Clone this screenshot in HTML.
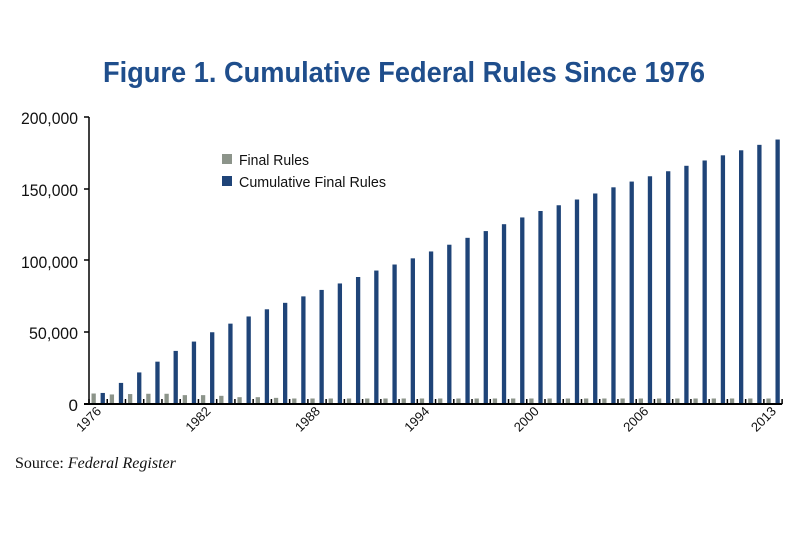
<!DOCTYPE html>
<html><head><meta charset="utf-8"><style>
html,body{margin:0;padding:0;background:#fff;width:800px;height:533px;overflow:hidden}
text{font-family:"Liberation Sans Narrow","Liberation Sans",sans-serif}
</style></head><body>
<svg id="s" width="800" height="533" viewBox="0 0 800 533" xmlns="http://www.w3.org/2000/svg">
<text x="404" y="82" text-anchor="middle" font-size="29" font-weight="bold" fill="#1f4e8c" textLength="602" lengthAdjust="spacingAndGlyphs">Figure 1. Cumulative Federal Rules Since 1976</text>
<g font-size="17" fill="#111" text-anchor="end">
<text x="78" y="124" textLength="57" lengthAdjust="spacingAndGlyphs">200,000</text>
<text x="78" y="196" textLength="57" lengthAdjust="spacingAndGlyphs">150,000</text>
<text x="78" y="268" textLength="57" lengthAdjust="spacingAndGlyphs">100,000</text>
<text x="78" y="339" textLength="49" lengthAdjust="spacingAndGlyphs">50,000</text>
<text x="78" y="411">0</text>
</g>
<rect x="222" y="154" width="10" height="10" fill="#8c948a"/>
<text x="239" y="165" font-size="15" fill="#111" textLength="70" lengthAdjust="spacingAndGlyphs">Final Rules</text>
<rect x="222" y="176" width="10" height="10" fill="#1f4478"/>
<text x="239" y="187" font-size="15" fill="#111" textLength="147" lengthAdjust="spacingAndGlyphs">Cumulative Final Rules</text>
<text x="15" y="468" font-size="16" fill="#111" style="font-family:'Liberation Serif',serif">Source: <tspan font-style="italic">Federal Register</tspan></text>
<g id="bars"></g>
</svg>
<script>
var cum=[7700,14700,22000,29500,37000,43500,50000,56000,61000,66000,70500,75000,79500,84000,88500,93000,97200,101500,106300,111000,115800,120500,125300,130000,134500,138500,142500,146700,151000,155000,158700,162200,166000,169700,173300,176800,180600,184300];
var g=document.getElementById('bars'),out='';
var x0=89,w=18.24,y0=404,sc=287/200000;
var prev=0;
for(var i=0;i<38;i++){
 var fr=i==0?7700:cum[i]-prev; prev=cum[i];
 var fh=Math.max(4,Math.min(fr,7700)*sc*0.95);
 if(i>10) fh=Math.max(5.5,fh*0.75);
 var x=x0+i*w;
 out+='<rect x="'+(x+2.5)+'" y="'+(y0-fh)+'" width="4.3" height="'+fh+'" fill="#8c948a"/>';
 var h=cum[i]*sc;
 out+='<rect x="'+(x+11.6)+'" y="'+(y0-h)+'" width="4.3" height="'+h+'" fill="#1f4478"/>';
 out+='<line x1="'+x+'" y1="'+(y0-5)+'" x2="'+x+'" y2="'+y0+'" stroke="#000" stroke-width="1.5"/>';
}
out+='<line x1="'+(x0+38*w)+'" y1="'+(y0-5)+'" x2="'+(x0+38*w)+'" y2="'+y0+'" stroke="#000" stroke-width="1.5"/>';
out+='<line x1="89" y1="117" x2="89" y2="405" stroke="#000" stroke-width="1.5"/>';
var ty=[117,189,260,332];
for(var k=0;k<4;k++) out+='<line x1="84" y1="'+ty[k]+'" x2="89" y2="'+ty[k]+'" stroke="#000" stroke-width="1.5"/>';
out+='<line x1="84" y1="404" x2="'+(x0+38*w)+'" y2="404" stroke="#000" stroke-width="2"/>';
var labs=[[0,'1976'],[6,'1982'],[12,'1988'],[18,'1994'],[24,'2000'],[30,'2006'],[37,'2013']];
labs.forEach(function(l){var x=x0+l[0]*w+13,y=412;
 out+='<text x="'+x+'" y="'+y+'" font-size="13" text-anchor="end" fill="#111" textLength="29" lengthAdjust="spacingAndGlyphs" transform="rotate(-45 '+x+' '+y+')">'+l[1]+'</text>';});
g.innerHTML=out;
</script>
</body></html>
